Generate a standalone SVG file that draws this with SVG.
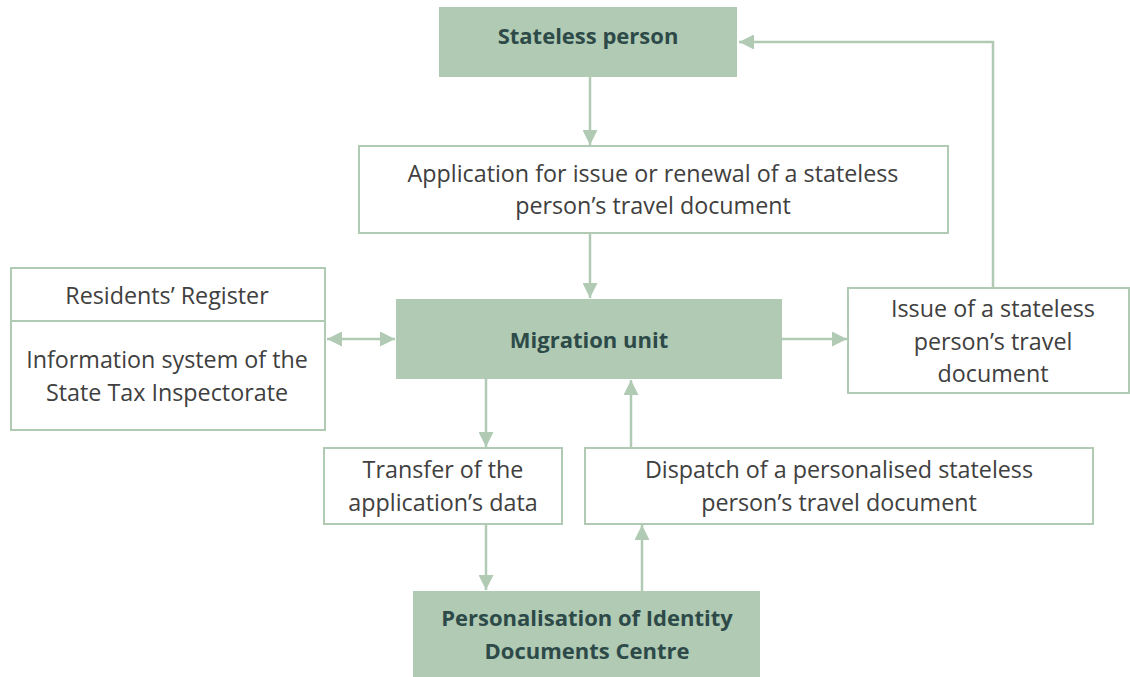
<svg xmlns="http://www.w3.org/2000/svg" width="1130" height="677" viewBox="0 0 1130 677">
<style>
.box{fill:#ffffff;stroke:#b0cab4;stroke-width:2}
.fill{fill:#b0cab4;stroke:none}
.t{font-family:"Open Sans","Liberation Sans",Arial,sans-serif;font-size:23.3px;fill:#404040;text-anchor:middle}
.b{font-family:"Open Sans","Liberation Sans",Arial,sans-serif;font-size:22px;font-weight:bold;fill:#2d4a48;text-anchor:middle}
.c{stroke:#b0cab4;stroke-width:2.5;fill:none}
</style>
<defs>
<marker id="ah" viewBox="0 0 10 10" refX="10" refY="5" markerWidth="6" markerHeight="6" markerUnits="strokeWidth" orient="auto-start-reverse">
<path d="M0,0 L10,5 L0,10 Z" fill="#b0cab4"/>
</marker>
</defs>
<rect width="1130" height="677" fill="#ffffff"/>
<g id="connectors">
<line class="c" x1="590" y1="77" x2="590" y2="145" marker-end="url(#ah)"/>
<line class="c" x1="590" y1="233" x2="590" y2="298" marker-end="url(#ah)"/>
<line class="c" x1="327" y1="339" x2="395" y2="339" marker-start="url(#ah)" marker-end="url(#ah)"/>
<line class="c" x1="782" y1="339" x2="847" y2="339" marker-end="url(#ah)"/>
<polyline class="c" points="993,288 993,42 739,42" marker-end="url(#ah)"/>
<line class="c" x1="486" y1="379" x2="486" y2="447" marker-end="url(#ah)"/>
<line class="c" x1="486" y1="524" x2="486" y2="590" marker-end="url(#ah)"/>
<line class="c" x1="642" y1="591" x2="642" y2="525" marker-end="url(#ah)"/>
<line class="c" x1="631" y1="448" x2="631" y2="380" marker-end="url(#ah)"/>
</g>
<g id="stateless-person">
<rect class="fill" x="439" y="7" width="298" height="70"/>
<text class="b" x="588" y="44">Stateless person</text>
</g>
<g id="application">
<rect class="box" x="359" y="146" width="589" height="87"/>
<text class="t" x="653" y="182">Application for issue or renewal of a stateless</text>
<text class="t" x="653" y="214">person’s travel document</text>
</g>
<g id="registers">
<rect class="box" x="11" y="268" width="314" height="162"/>
<line class="box" x1="11" y1="321" x2="325" y2="321"/>
<text class="t" x="167" y="304">Residents’ Register</text>
<text class="t" x="167" y="368">Information system of the</text>
<text class="t" x="167" y="401">State Tax Inspectorate</text>
</g>
<g id="migration-unit">
<rect class="fill" x="396" y="299" width="386" height="80"/>
<text class="b" x="589" y="348">Migration unit</text>
</g>
<g id="issue">
<rect class="box" x="848" y="288" width="281" height="105"/>
<text class="t" x="993" y="317">Issue of a stateless</text>
<text class="t" x="993" y="350">person’s travel</text>
<text class="t" x="993" y="382">document</text>
</g>
<g id="transfer">
<rect class="box" x="324" y="448" width="238" height="76"/>
<text class="t" x="443" y="478">Transfer of the</text>
<text class="t" x="443" y="511">application’s data</text>
</g>
<g id="dispatch">
<rect class="box" x="585" y="448" width="508" height="76"/>
<text class="t" x="839" y="478">Dispatch of a personalised stateless</text>
<text class="t" x="839" y="511">person’s travel document</text>
</g>
<g id="personalisation-centre">
<rect class="fill" x="413" y="591" width="347" height="86"/>
<text class="b" x="587" y="626">Personalisation of Identity</text>
<text class="b" x="587" y="659">Documents Centre</text>
</g>
</svg>
